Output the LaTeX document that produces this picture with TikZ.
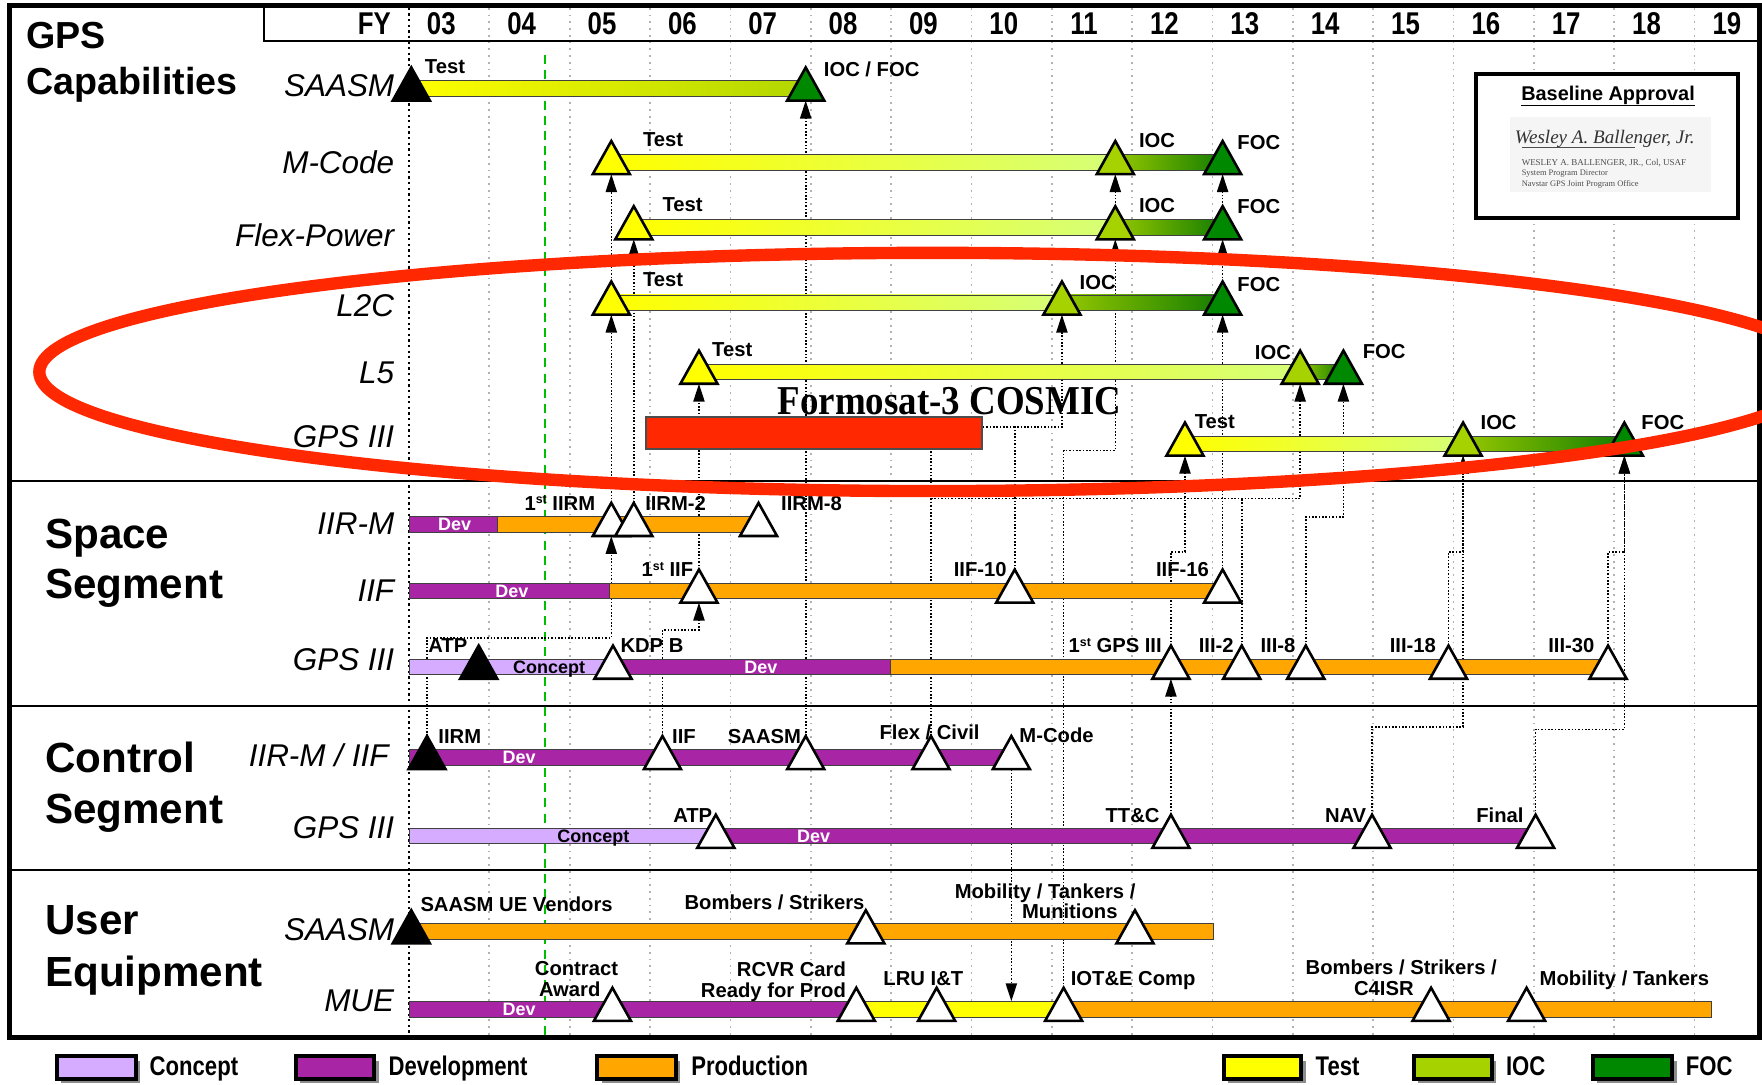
\documentclass[tikz,border=0pt]{standalone}
\usepackage{fontspec}
\setmainfont{Liberation Sans}
\newfontfamily\narrowsf[FakeStretch=0.82]{Liberation Sans}
\newfontfamily\serifbf[FakeStretch=0.9]{Liberation Serif}
\newfontfamily\seriftxt{Liberation Serif}
\usetikzlibrary{arrows.meta}
\newcommand\fsz[1]{\fontsize{#1}{#1}\selectfont}

\definecolor{devP}{RGB}{168,38,166}
\definecolor{concL}{RGB}{213,172,255}
\definecolor{prodO}{RGB}{255,166,0}
\definecolor{testY}{RGB}{255,255,0}
\definecolor{paleG}{RGB}{214,255,120}
\definecolor{iocG}{RGB}{166,210,0}
\definecolor{focG}{RGB}{0,136,0}
\definecolor{midG}{RGB}{150,200,0}
\definecolor{darkG}{RGB}{20,125,0}
\definecolor{saEnd}{RGB}{178,214,0}
\definecolor{redC}{RGB}{255,40,0}
\definecolor{dashG}{RGB}{0,190,0}

\pgfdeclarelayer{lbg}
\pgfdeclarelayer{lgrid}
\pgfdeclarelayer{llinks}
\pgfdeclarelayer{ltop}
\pgfsetlayers{lbg,lgrid,llinks,main,ltop}

% milestone triangle: name, x, bar centre y, fill
\newcommand\mstone[4]{%
  \coordinate (#1) at (#2,#3+10.5);
  \coordinate (#1-t) at (#2,#3-19);
  \filldraw[mile,fill=#4] (#2-16.5,#3+10.5) -- (#2+16.5,#3+10.5) -- (#2,#3-19) -- cycle;}
% plain bar: x1, x2, centre y, fill
\newcommand\pbar[4]{\filldraw[bar,fill=#4] (#1,#3-7) rectangle (#2,#3+7);}
% shaded bar: x1, x2, centre y, left colour, right colour
\newcommand\gbar[5]{\shadedraw[bar,left color=#4,right color=#5] (#1,#3-7) rectangle (#2,#3+7);}

\begin{document}
\begin{tikzpicture}[x=1pt,y=-1pt,
  mile/.style={line width=2.3pt,line join=miter,draw=black},
  bar/.style={draw=black!75,line width=0.8pt},
  link/.style={line width=1.4pt,dash pattern=on 1.4pt off 1.6pt},
  linkarrow/.style={link,-{Triangle[length=16pt,width=10pt]}},
  lbl/.style={font=\fsz{18}\bfseries,inner sep=0pt},
  inbar/.style={font=\fsz{16}\bfseries,inner sep=0pt,anchor=base},
  rowlbl/.style={font=\fsz{28}\itshape,inner sep=0pt,anchor=base east},
  sect/.style={font=\fsz{37.5}\bfseries,inner sep=0pt,anchor=base west},
  yr/.style={font=\narrowsf\fsz{28}\bfseries,inner sep=0pt,anchor=base},
  leg/.style={font=\narrowsf\fsz{24}\bfseries,inner sep=0pt,anchor=base west},
  legbox/.style={draw=black,line width=3.5pt},
  gridline/.style={draw=black!30,line width=1.6pt,dash pattern=on 1.6pt off 4.4pt}]

\useasboundingbox (0,0) rectangle (1568,965);
\begin{pgfonlayer}{lbg}
\fill[white] (0,0) rectangle (1568,965);
\end{pgfonlayer}

% ---------- grid ----------
\begin{pgfonlayer}{lgrid}
\foreach \k in {1,...,16}
  \draw[gridline] (364+71.5*\k,7) -- (364+71.5*\k,921);
\draw[line width=2pt,dash pattern=on 2pt off 3pt] (364,7) -- (364,921);
\draw[dashG,line width=1.8pt,dash pattern=on 8pt off 5.5pt] (485,49) -- (485,921);
\end{pgfonlayer}

% ---------- frame and header ----------
\draw[line width=2pt] (235,5) -- (235,36.5) -- (1566,36.5);
\foreach \yy in {428,628.5,774}
  \draw[line width=2pt] (8.5,\yy) -- (1566,\yy);
\draw[line width=4.5pt] (8.5,5) rectangle (1566,923);

\node[yr,anchor=base east] (fy) at (348,31) {FY};
\foreach \yl [count=\k from 0] in {03,04,05,06,07,08,09,10,11,12,13,14,15,16,17,18,19}
  \node[yr] (yr\yl) at (364+71.5*\k+35.75-7,31) {\yl};

% ---------- section titles and row labels ----------
\node[sect,font=\fsz{33.5}\bfseries] (tGPS) at (23,43) {GPS};
\node[sect,font=\fsz{33.5}\bfseries] (tCap) at (23,84.5) {Capabilities};
\node[sect] (tSpace) at (40,488) {Space};
\node[sect] (tSeg1) at (40,532.5) {Segment};
\node[sect] (tControl) at (40,687) {Control};
\node[sect] (tSeg2) at (40,733) {Segment};
\node[sect] (tUser) at (40,832) {User};
\node[sect] (tEquip) at (40,878) {Equipment};

\node[rowlbl] (rSA) at (351,86) {SAASM};
\node[rowlbl] (rMC) at (351,154) {M-Code};
\node[rowlbl] (rFP) at (351,219.5) {Flex-Power};
\node[rowlbl] (rL2) at (351,282) {L2C};
\node[rowlbl] (rL5) at (351,341) {L5};
\node[rowlbl] (rG3) at (351,398) {GPS III};
\node[rowlbl] (rIR) at (351,476) {IIR-M};
\node[rowlbl] (rIF) at (351,535) {IIF};
\node[rowlbl] (rSG) at (351,597) {GPS III};
\node[rowlbl] (rCI) at (346,682) {IIR-M / IIF};
\node[rowlbl] (rCG) at (351,746) {GPS III};
\node[rowlbl] (rUS) at (351,837) {SAASM};
\node[rowlbl] (rUM) at (351,900) {MUE};

% ---------- baseline approval ----------
\draw[line width=3pt,fill=white] (1313.5,66) rectangle (1546.5,194);
\fill[black!4] (1344,104) rectangle (1523,171);
\node[font=\fsz{17.7}\bfseries,inner sep=0pt,anchor=base] (bapp) at (1431,89) {\underline{Baseline Approval}};
\node[font=\seriftxt\itshape\fsz{17},text=black!80,inner sep=0pt,anchor=base] (sig) at (1428,128) {Wesley A. Ballenger, Jr.};
\draw[black!70,line width=0.6pt] (1354,131) -- (1455,131);
\node[font=\seriftxt\fsz{8},text=black!70,inner sep=0pt,anchor=base west] (sig1) at (1354,147) {WESLEY A. BALLENGER, JR., Col, USAF};
\node[font=\seriftxt\fsz{7.5},text=black!70,inner sep=0pt,anchor=base west] (sig2) at (1354,156.5) {System Program Director};
\node[font=\seriftxt\fsz{7.5},text=black!70,inner sep=0pt,anchor=base west] (sig3) at (1354,166) {Navstar GPS Joint Program Office};

% ---------- GPS capabilities bars ----------
\gbar{366}{717}{79}{testY}{saEnd}
\gbar{544}{992.5}{144.5}{testY}{paleG}
\gbar{992.5}{1088}{144.5}{midG}{darkG}
\gbar{564}{992.5}{202.5}{testY}{paleG}
\gbar{992.5}{1088}{202.5}{midG}{darkG}
\gbar{544}{945}{269.5}{testY}{paleG}
\gbar{945}{1088}{269.5}{midG}{darkG}
\gbar{622}{1157}{331}{testY}{paleG}
\gbar{1157}{1195.5}{331}{midG}{darkG}
\gbar{1054.5}{1302}{395}{testY}{paleG}
\gbar{1302}{1445.5}{395}{midG}{darkG}

\mstone{saT}{366}{79}{black}
\mstone{saF}{717}{79}{focG}
\mstone{mcT}{544}{144.5}{testY}
\mstone{mcI}{992.5}{144.5}{iocG}
\mstone{mcF}{1088}{144.5}{focG}
\mstone{fpT}{564}{202.5}{testY}
\mstone{fpI}{992.5}{202.5}{iocG}
\mstone{fpF}{1088}{202.5}{focG}
\mstone{lcT}{544}{269.5}{testY}
\mstone{lcI}{945}{269.5}{iocG}
\mstone{lcF}{1088}{269.5}{focG}
\mstone{lfT}{622}{331}{testY}
\mstone{lfI}{1157}{331}{iocG}
\mstone{lfF}{1195.5}{331}{focG}
\mstone{gcT}{1054.5}{395}{testY}
\mstone{gcI}{1302}{395}{iocG}
\mstone{gcF}{1445.5}{395}{focG}

\node[lbl,anchor=base west] (lsaT) at (378,65) {Test};
\node[lbl,anchor=base west] (lsaF) at (733,68) {IOC / FOC};
\node[lbl,anchor=base west] (lmcT) at (572,130.5) {Test};
\node[lbl,anchor=base west] (lmcI) at (1013.4,131.5) {IOC};
\node[lbl,anchor=base west] (lmcF) at (1101,133) {FOC};
\node[lbl,anchor=base west] (lfpT) at (589.4,188.4) {Test};
\node[lbl,anchor=base west] (lfpI) at (1013.4,189.5) {IOC};
\node[lbl,anchor=base west] (lfpF) at (1101,190) {FOC};
\node[lbl,anchor=base west] (llcT) at (572,255) {Test};
\node[lbl,anchor=base west] (llcI) at (960.6,258) {IOC};
\node[lbl,anchor=base west] (llcF) at (1101,259.5) {FOC};
\node[lbl,anchor=base west] (llfT) at (633.6,317) {Test};
\node[lbl,anchor=base east] (llfI) at (1149,319.5) {IOC};
\node[lbl,anchor=base west] (llfF) at (1212.6,319) {FOC};
\node[lbl,anchor=base west] (lgcT) at (1063,381) {Test};
\node[lbl,anchor=base west] (lgcI) at (1317.4,382) {IOC};
\node[lbl,anchor=base west] (lgcF) at (1460.5,382) {FOC};

% ---------- space segment ----------
\pbar{364}{443}{466.5}{devP}
\pbar{443}{668}{466.5}{prodO}
\pbar{364}{542}{525.8}{devP}
\pbar{542}{1088}{525.8}{prodO}
\pbar{364}{545.5}{593.5}{concL}
\pbar{545.5}{792}{593.5}{devP}
\pbar{792}{1431}{593.5}{prodO}
\node[inbar,text=white] (dIR) at (404.5,472.3) {Dev};
\node[inbar,text=white] (dIF) at (455.5,531.6) {Dev};
\node[inbar] (cSG) at (488.7,599.3) {Concept};
\node[inbar,text=white] (dSG) at (677,599.3) {Dev};

\mstone{rm1}{544}{466.5}{white}
\mstone{rm2}{564}{466.5}{white}
\mstone{rm8}{675}{466.5}{white}
\mstone{f1}{622}{525.8}{white}
\mstone{f10}{903}{525.8}{white}
\mstone{f16}{1088}{525.8}{white}
\mstone{sATP}{426}{593.5}{black}
\mstone{kdp}{545.5}{593.5}{white}
\mstone{g1}{1042}{593.5}{white}
\mstone{g2}{1105}{593.5}{white}
\mstone{g8}{1162}{593.5}{white}
\mstone{g18}{1289}{593.5}{white}
\mstone{g30}{1431}{593.5}{white}

\node[lbl,anchor=base west] (lrm1) at (466.6,454) {1\raisebox{5.5pt}{\fsz{11}st} IIRM};
\node[lbl,anchor=base west] (lrm2) at (574,454) {IIRM-2};
\node[lbl,anchor=base west] (lrm8) at (695,454) {IIRM-8};
\node[lbl,anchor=base east] (lf1) at (617,513) {1\raisebox{5.5pt}{\fsz{11}st} IIF};
\node[lbl,anchor=base east] (lf10) at (896,513) {IIF-10};
\node[lbl,anchor=base east] (lf16) at (1076,513) {IIF-16};
\node[lbl,anchor=base west] (lsATP) at (381,581) {ATP};
\node[lbl,anchor=base west] (lkdp) at (552,581) {KDP B};
\node[lbl,anchor=base east] (lg1) at (1034,581) {1\raisebox{5.5pt}{\fsz{11}st} GPS III};
\node[lbl,anchor=base east] (lg2) at (1098,581) {III-2};
\node[lbl,anchor=base east] (lg8) at (1153,581) {III-8};
\node[lbl,anchor=base east] (lg18) at (1278,581) {III-18};
\node[lbl,anchor=base east] (lg30) at (1419,581) {III-30};

% ---------- control segment ----------
\pbar{364}{900}{674}{devP}
\pbar{364}{637}{744}{concL}
\pbar{637}{1366.5}{744}{devP}
\node[inbar,text=white] (dCI) at (462,679.8) {Dev};
\node[inbar] (cCG) at (528,749.8) {Concept};
\node[inbar,text=white] (dCG) at (724,749.8) {Dev};

\mstone{cRM}{380}{674}{black}
\mstone{cIF}{589.5}{674}{white}
\mstone{cSA}{717}{674}{white}
\mstone{cFC}{828.5}{674}{white}
\mstone{cMC}{900}{674}{white}
\mstone{cATP}{637}{744}{white}
\mstone{cTT}{1042}{744}{white}
\mstone{cNAV}{1221}{744}{white}
\mstone{cFin}{1366.5}{744}{white}

\node[lbl,anchor=base west] (lcRM) at (390,661.5) {IIRM};
\node[lbl,anchor=base west] (lcIF) at (598,661.5) {IIF};
\node[lbl,anchor=base east] (lcSA) at (713,661.5) {SAASM};
\node[lbl,anchor=base west] (lcFC) at (782.5,658) {Flex / Civil};
\node[lbl,anchor=base west] (lcMC) at (907,661) {M-Code};
\node[lbl,anchor=base east] (lcATP) at (634,732) {ATP};
\node[lbl,anchor=base east] (lcTT) at (1032,732) {TT\&C};
\node[lbl,anchor=base east] (lcNAV) at (1216,732) {NAV};
\node[lbl,anchor=base east] (lcFin) at (1356,732) {Final};

% ---------- user equipment ----------
\pbar{364}{1080}{829}{prodO}
\pbar{364}{762}{898}{devP}
\pbar{762}{946.5}{898}{testY}
\pbar{946.5}{1523}{898}{prodO}
\node[inbar,text=white] (dUM) at (462,903.8) {Dev};

\mstone{uV}{366}{829}{black}
\mstone{uBS}{770.5}{829}{white}
\mstone{uMT}{1010}{829}{white}
\mstone{uCA}{545}{898}{white}
\mstone{uRC}{762}{898}{white}
\mstone{uLRU}{833.5}{898}{white}
\mstone{uIOT}{946.5}{898}{white}
\mstone{uBSC}{1273.5}{898}{white}
\mstone{uMob}{1358.5}{898}{white}
\coordinate (mueIn) at (900,891);

\node[lbl,anchor=base west] (luV) at (374,811) {SAASM UE Vendors};
\node[lbl,anchor=base west] (luBS) at (609,809) {Bombers / Strikers};
\node[lbl,anchor=base] (luMT1) at (930,799.5) {Mobility / Tankers /};
\node[lbl,anchor=base] (luMT2) at (952,817) {Munitions};
\node[lbl,anchor=base] (luCA1) at (513,868.5) {Contract};
\node[lbl,anchor=base] (luCA2) at (507,887) {Award};
\node[lbl,anchor=base east] (luRC1) at (753,869) {RCVR Card};
\node[lbl,anchor=base east] (luRC2) at (753,887.5) {Ready for Prod};
\node[lbl,anchor=base west] (luLRU) at (786,876.6) {LRU I\&T};
\node[lbl,anchor=base west] (luIOT) at (952.7,877) {IOT\&E Comp};
\node[lbl,anchor=base] (luBSC1) at (1247,867) {Bombers / Strikers /};
\node[lbl,anchor=base] (luBSC2) at (1231.5,886) {C4ISR};
\node[lbl,anchor=base west] (luMob) at (1370,877) {Mobility / Tankers};

% ---------- dependency links ----------
\begin{pgfonlayer}{llinks}
\draw[linkarrow] (cSA-t) -- (saF);
\draw[linkarrow] (cRM-t) -- ++(0,-87.5) -| (rm1);
\draw[linkarrow] (rm1-t) -- (lcT);
\draw[linkarrow] (lcT-t) -- (mcT);
\draw[linkarrow] (rm2-t) -- (fpT);
\draw[linkarrow] (cIF-t) -- ++(0,-94.5) -| (f1);
\draw[linkarrow] (f1-t) -- (lfT);
\draw[link] (cFC-t) -- ++(0,-262);
\draw[linkarrow] (cFC-t) ++(0,-211.5) -| (lfI);
\draw[link] (g2-t) -- ++(0,-131);
\draw[linkarrow] (f10-t) -- ++(0,-126.8) -| (lcI);
\draw[link] (f10-t) ++(0,-126.8) -- ++(-45,0);
\draw[linkarrow] (uIOT-t) -- ++(0,-478) -| (fpI);
\draw[linkarrow] (fpI-t) -- (mcI);
\draw[linkarrow] (f16-t) -- (lcF);
\draw[linkarrow] (lcF-t) -- (fpF);
\draw[linkarrow] (fpF-t) -- (mcF);
\draw[linkarrow] (g1-t) -- ++(0,-83.5) -| (gcT);
\draw[linkarrow] (cTT-t) -- (g1);
\draw[linkarrow] (g8-t) -- ++(0,-114.5) -| (lfF);
\draw[linkarrow] (g18-t) -- ++(0,-83.5) -| (gcI);
\draw[linkarrow] (cNAV-t) -- ++(0,-78.3) -| (gcI);
\draw[linkarrow] (g30-t) -- ++(0,-83.5) -| (gcF);
\draw[linkarrow] (cFin-t) -- ++(0,-76) -| (gcF);
\draw[linkarrow] (cMC) -- (mueIn);
\end{pgfonlayer}

% ---------- Formosat-3 COSMIC ----------
\filldraw[fill=redC,draw=black!70,line width=1.8pt] (574.7,370.8) rectangle (873.7,399.9);
\node[font=\serifbf\fsz{36.5}\bfseries,inner sep=0pt,anchor=base] (fc3) at (845,369) {Formosat-3 COSMIC};
\begin{pgfonlayer}{ltop}
\draw[redC,line width=11pt] (830,331) ellipse [x radius=795,y radius=106];
\end{pgfonlayer}

% ---------- legend ----------
\foreach \xa/\xb/\cc in {50.4/121/concL,263/333/devP,531.5/601.3/prodO,1089/1158/testY,1258/1327.5/iocG,1417.5/1488/focG}{
  \fill[black!45] (\xa+4,944) rectangle (\xb+4,964);
  \filldraw[legbox,fill=\cc] (\xa,940) rectangle (\xb,960);
}
\node[leg] (gConc) at (133,957) {Concept};
\node[leg] (gDev) at (345.7,957) {Development};
\node[leg] (gProd) at (615,957) {Production};
\node[leg] (gTest) at (1170.6,957) {Test};
\node[leg] (gIOC) at (1340,957) {IOC};
\node[leg] (gFOC) at (1500,957) {FOC};
\end{tikzpicture}
\end{document}
